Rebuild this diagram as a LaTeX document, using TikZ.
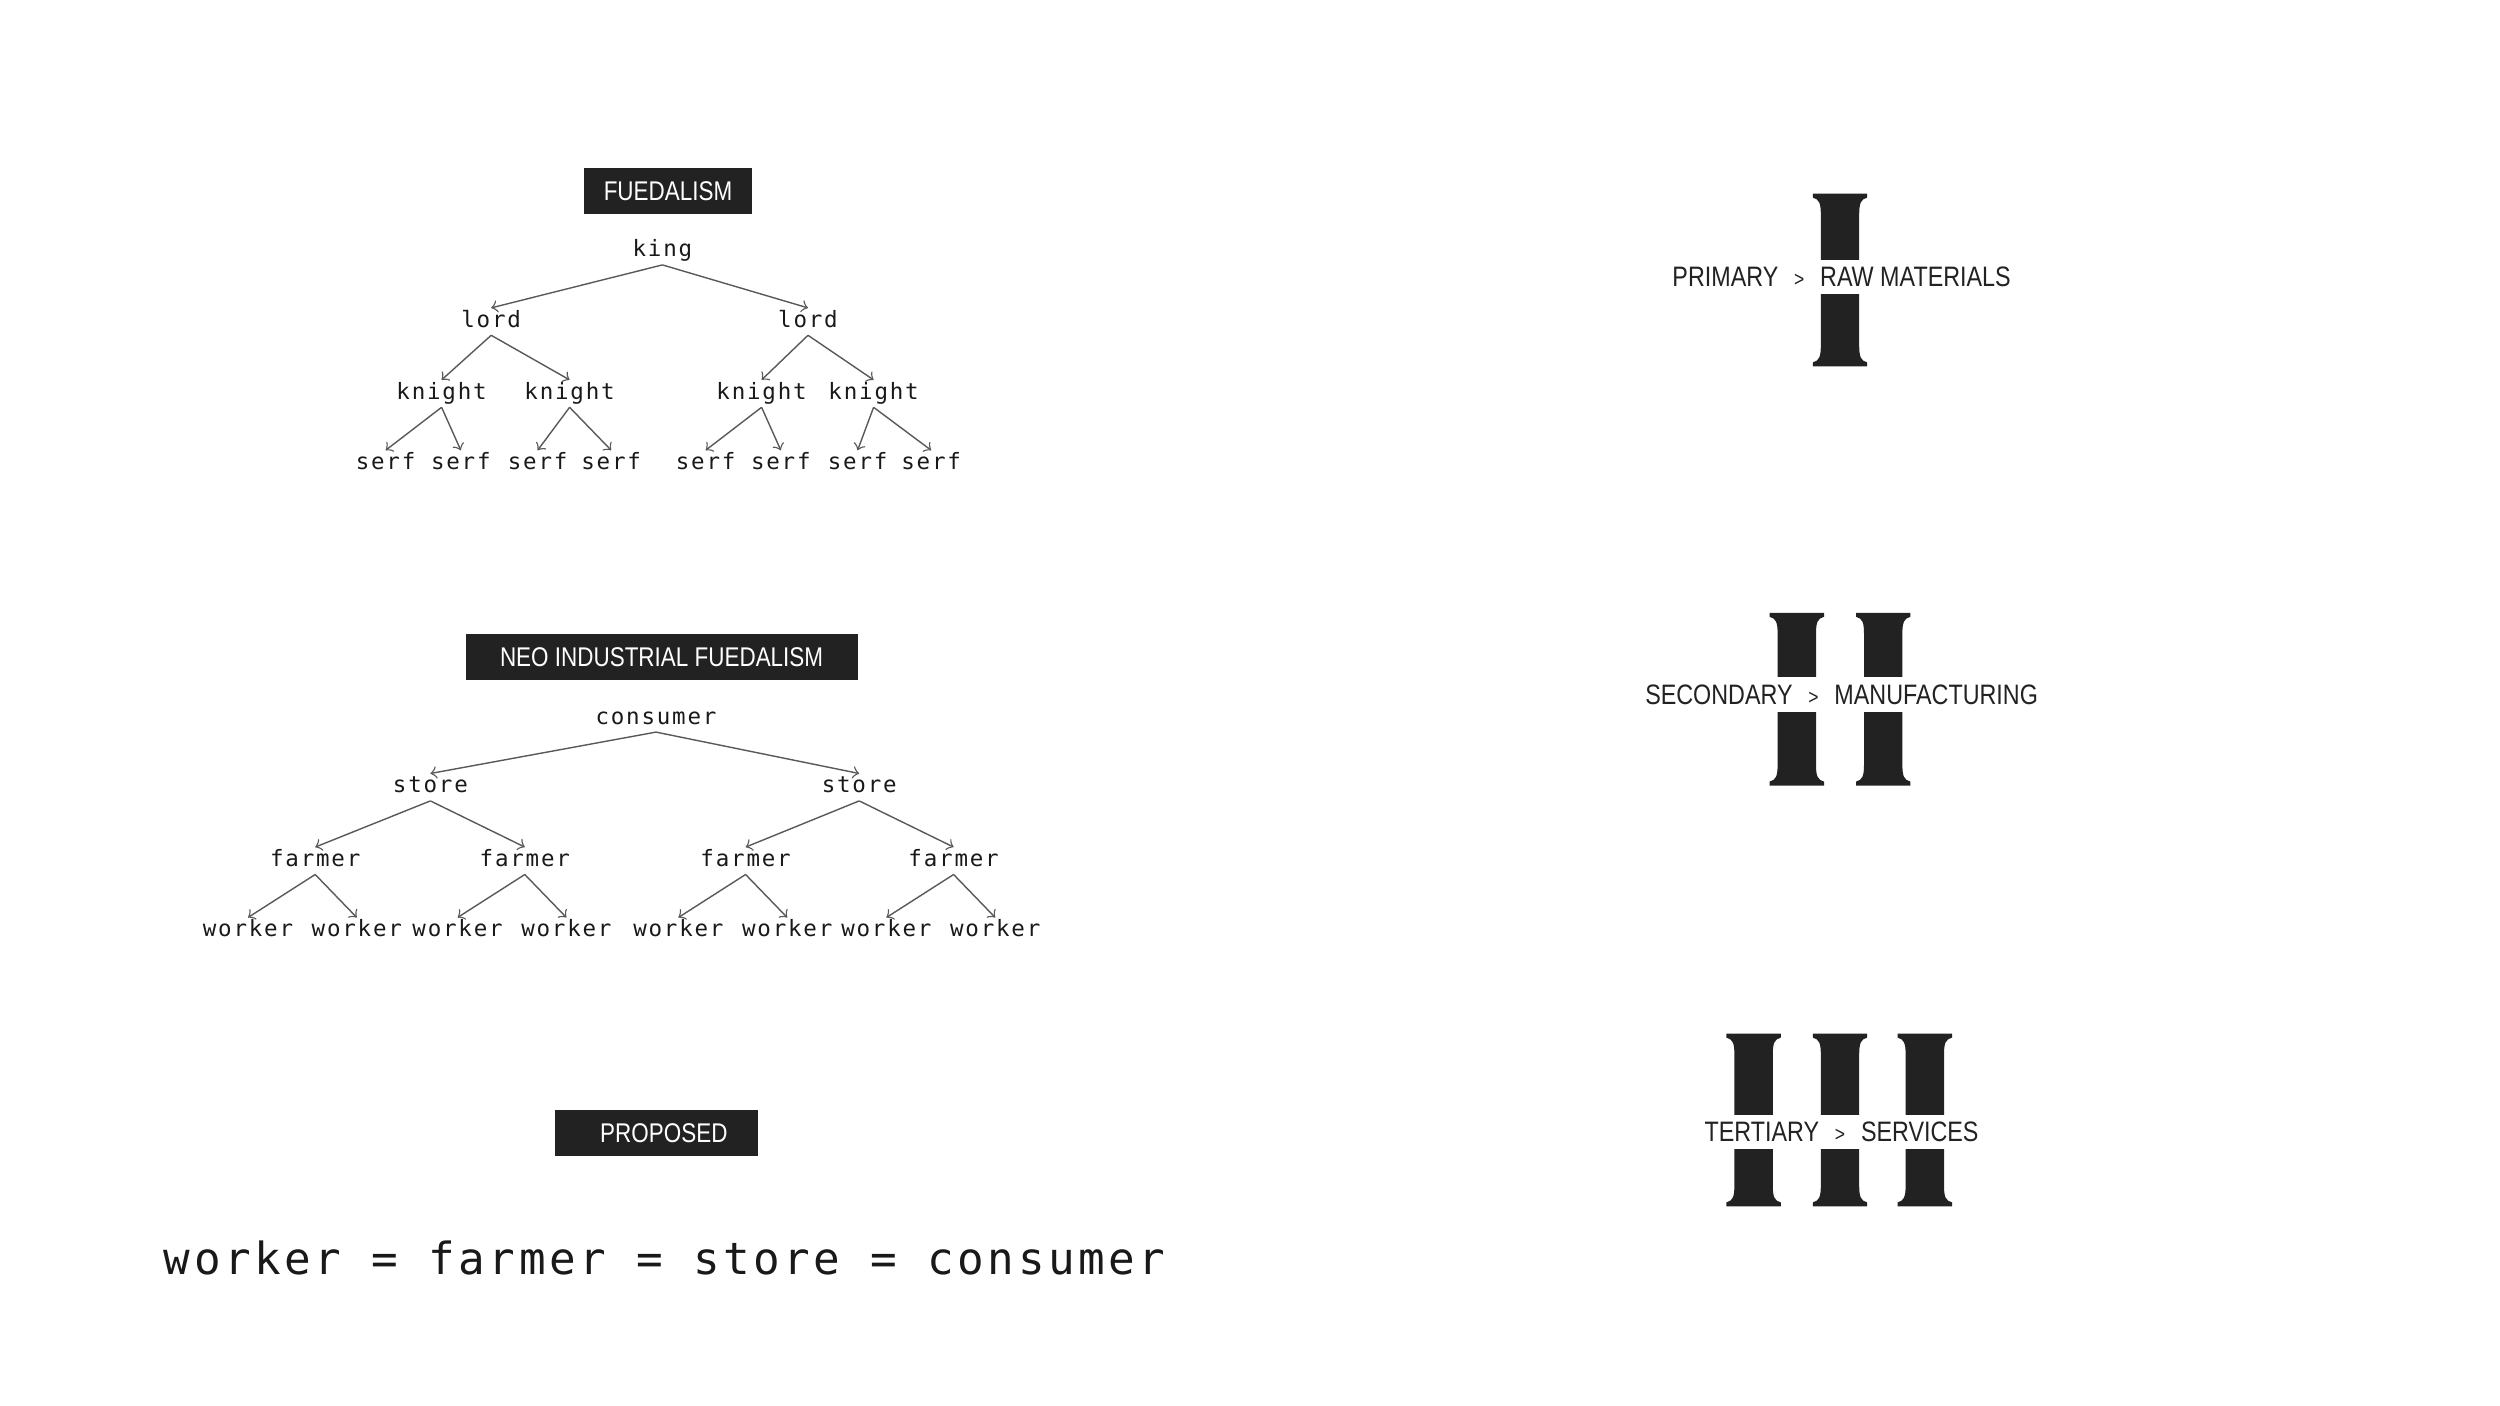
\documentclass[tikz,border=0pt]{standalone}
\usepackage{fontspec}
\usepackage{tikz}

\newfontfamily\treefont[LetterSpace=8]{DejaVu Sans Mono}
\newfontfamily\headfont[FakeStretch=0.83]{Liberation Sans}
\definecolor{ink}{HTML}{222222}
\newcommand\chev{\hspace{4.5pt}{\fontsize{6}{7}\selectfont >}\hspace{4.5pt}}

\tikzset{
  word/.style={font=\treefont\fontsize{6.4}{7}\selectfont, text=black!90, inner xsep=1pt, inner ysep=0.8pt, text height=4.5pt, text depth=1.3pt},
  tag/.style={fill=ink, text=white, font=\headfont\fontsize{7.7}{9}\selectfont, minimum height=0.464cm, inner sep=0pt},
  sector/.style={fill=white, text=ink, font=\headfont\fontsize{8}{9}\selectfont, minimum height=0.344cm, inner sep=0pt},
  link/.style={->, draw=black!65, line width=0.4pt}
}

\begin{document}
\begin{tikzpicture}[x=0.016cm, y=-0.016cm]
    \useasboundingbox (0,0) rectangle (1562.5,878.75);
    \def\romanBar{(0,0) -- (34,0) -- (34,2.5) .. controls (30,3.5) and (29,6) .. (29,13) -- (29,95) .. controls (29,102) and (30,104.5) .. (34,105.5) -- (34,108) -- (0,108) -- (0,105.5) .. controls (4,104.5) and (5,102) .. (5,95) -- (5,13) .. controls (5,6) and (4,3.5) .. (0,2.5) -- cycle}

    % fuedalism
    \node[tag, minimum width=1.68cm] (feudalTag) at (417.5,119.5) {FUEDALISM};
    \node[word] (king) at (414,157) {king};
    \node[word] (lordA) at (307,201) {lord};
    \node[word] (lordB) at (505,201) {lord};
    \node[word] (knightA) at (276,246) {knight};
    \node[word] (knightB) at (356,246) {knight};
    \node[word] (knightC) at (476,246) {knight};
    \node[word] (knightD) at (546,246) {knight};
    \node[word] (serfA) at (241,290) {serf};
    \node[word] (serfB) at (288,290) {serf};
    \node[word] (serfC) at (336,290) {serf};
    \node[word] (serfD) at (382,290) {serf};
    \node[word] (serfE) at (441,290) {serf};
    \node[word] (serfF) at (488,290) {serf};
    \node[word] (serfG) at (536,290) {serf};
    \node[word] (serfH) at (582,290) {serf};
    \draw [link] (king.south) -- (lordA.north);
    \draw [link] (king.south) -- (lordB.north);
    \draw [link] (lordA.south) -- (knightA.north);
    \draw [link] (lordA.south) -- (knightB.north);
    \draw [link] (lordB.south) -- (knightC.north);
    \draw [link] (lordB.south) -- (knightD.north);
    \draw [link] (knightA.south) -- (serfA.north);
    \draw [link] (knightA.south) -- (serfB.north);
    \draw [link] (knightB.south) -- (serfC.north);
    \draw [link] (knightB.south) -- (serfD.north);
    \draw [link] (knightC.south) -- (serfE.north);
    \draw [link] (knightC.south) -- (serfF.north);
    \draw [link] (knightD.south) -- (serfG.north);
    \draw [link] (knightD.south) -- (serfH.north);

    % neo industrial fuedalism
    \node[tag, minimum width=3.92cm] (neoTag) at (413.5,410.5) {NEO INDUSTRIAL FUEDALISM\hspace{2pt}};
    \node[word] (consumer) at (410,449) {consumer};
    \node[word] (storeA) at (269,492) {store};
    \node[word] (storeB) at (537,492) {store};
    \node[word] (farmerA) at (197,538) {farmer};
    \node[word] (farmerB) at (328,538) {farmer};
    \node[word] (farmerC) at (466,538) {farmer};
    \node[word] (farmerD) at (596,538) {farmer};
    \node[word] (workerA) at (155,582) {worker};
    \node[word] (workerB) at (223,582) {worker};
    \node[word] (workerC) at (286,582) {worker};
    \node[word] (workerD) at (354,582) {worker};
    \node[word] (workerE) at (424,582) {worker};
    \node[word] (workerF) at (492,582) {worker};
    \node[word] (workerG) at (554,582) {worker};
    \node[word] (workerH) at (622,582) {worker};
    \draw [link] (consumer.south) -- (storeA.north);
    \draw [link] (consumer.south) -- (storeB.north);
    \draw [link] (storeA.south) -- (farmerA.north);
    \draw [link] (storeA.south) -- (farmerB.north);
    \draw [link] (storeB.south) -- (farmerC.north);
    \draw [link] (storeB.south) -- (farmerD.north);
    \draw [link] (farmerA.south) -- (workerA.north);
    \draw [link] (farmerA.south) -- (workerB.north);
    \draw [link] (farmerB.south) -- (workerC.north);
    \draw [link] (farmerB.south) -- (workerD.north);
    \draw [link] (farmerC.south) -- (workerE.north);
    \draw [link] (farmerC.south) -- (workerF.north);
    \draw [link] (farmerD.south) -- (workerG.north);
    \draw [link] (farmerD.south) -- (workerH.north);

    % proposed
    \node[tag, minimum width=2.032cm] (proposedTag) at (410.5,708) {\hspace{4pt}PROPOSED};
    \node[font=\treefont\fontsize{12.6}{14}\selectfont, text=black!90, inner sep=0pt] (equality) at (415.5,786) {worker = farmer = store = consumer};

    % sectors
    \fill[ink, shift={(1133,121)}] \romanBar;
    \node[sector] (primary) at (1151,173) {PRIMARY\chev RAW MATERIALS};
    \fill[ink, shift={(1106,383)}] \romanBar;
    \fill[ink, shift={(1160,383)}] \romanBar;
    \node[sector] (secondary) at (1151,434) {SECONDARY\chev MANUFACTURING};
    \fill[ink, shift={(1079,646)}] \romanBar;
    \fill[ink, shift={(1133,646)}] \romanBar;
    \fill[ink, shift={(1186,646)}] \romanBar;
    \node[sector] (tertiary) at (1151,707.5) {TERTIARY\chev SERVICES};
\end{tikzpicture}
\end{document}
